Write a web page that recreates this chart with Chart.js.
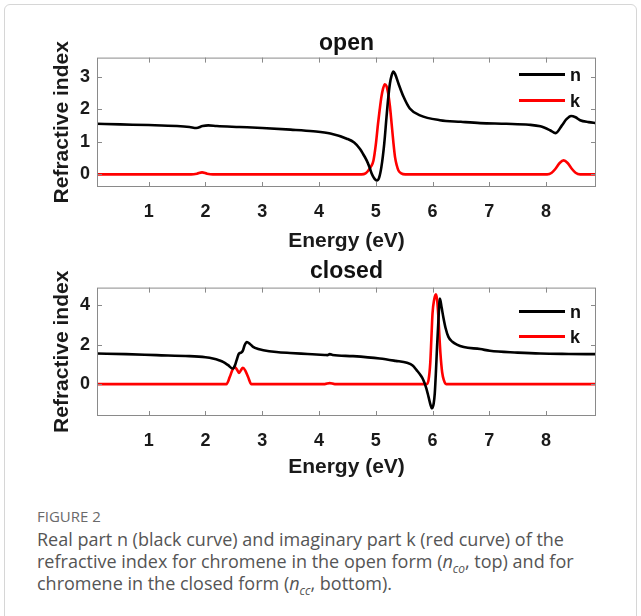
<!DOCTYPE html>
<html>
<head>
<meta charset="utf-8">
<script src="https://cdn.jsdelivr.net/npm/chart.js@4.4.1/dist/chart.umd.min.js"></script>
<style>
  body { margin: 0; background: #fff; width: 641px; height: 616px; overflow: hidden; position: relative; }
  #frame { position: absolute; left: 4px; top: 4px; width: 631px; height: 660px; border: 1px solid #d6d6d6; border-radius: 6px; }
  canvas { position: absolute; left: 0; }
  #c1 { top: 0; }
  #c2 { top: 230px; }
  #fig { position: absolute; left: 37px; top: 506px; font-family: "Open Sans", sans-serif; font-size: 15px; color: #6a6a6a; line-height: 20px; }
  #cap { position: absolute; left: 37px; top: 528px; width: 600px; white-space: nowrap; font-family: "Open Sans", sans-serif; font-size: 18px; color: #555; line-height: 22px; }
  #cap sub { font-size: 12px; font-style: italic; line-height: 0; }
</style>
</head>
<body>
<div id="frame"></div>
<canvas id="c1" width="641" height="257"></canvas>
<canvas id="c2" width="641" height="256"></canvas>
<div id="fig">FIGURE 2</div>
<div id="cap">Real part n (black curve) and imaginary part k (red curve) of the<br>refractive index for chromene in the open form (<i>n</i><sub>co</sub>, top) and for<br>chromene in the closed form (<i>n</i><sub>cc</sub>, bottom).</div>

<script>
// energy axis ticks
const xTicks = [1, 2, 3, 4, 5, 6, 7, 8];

// open form
const openNx = [0.09, 0.5, 1.0, 1.5, 1.72, 1.84, 1.95, 2.05, 2.2, 2.6, 3.0, 3.5, 3.9, 4.2, 4.49, 4.62, 4.72, 4.78, 4.84, 4.89, 4.93, 4.98, 5.02, 5.06, 5.10, 5.15, 5.19, 5.22, 5.25, 5.28, 5.31, 5.34, 5.40, 5.49, 5.60, 5.78, 6.13, 6.5, 6.84, 7.3, 7.7, 7.9, 8.07, 8.17, 8.28, 8.36, 8.44, 8.52, 8.60, 8.75, 8.88];
const openNy = [1.56, 1.54, 1.52, 1.49, 1.46, 1.43, 1.49, 1.51, 1.49, 1.46, 1.43, 1.38, 1.33, 1.26, 1.10, 0.98, 0.79, 0.62, 0.43, 0.22, 0.02, -0.14, -0.19, -0.10, 0.23, 0.95, 1.77, 2.35, 2.80, 3.05, 3.17, 3.10, 2.80, 2.39, 2.03, 1.82, 1.67, 1.62, 1.58, 1.56, 1.53, 1.48, 1.36, 1.27, 1.51, 1.70, 1.80, 1.76, 1.67, 1.61, 1.58];
const openKx = [0.09, 1.75, 1.85, 1.94, 2.03, 2.13, 4.75, 4.82, 4.87, 4.92, 4.96, 5.00, 5.04, 5.07, 5.10, 5.13, 5.16, 5.19, 5.22, 5.25, 5.28, 5.31, 5.34, 5.37, 5.40, 5.45, 5.52, 8.02, 8.10, 8.17, 8.24, 8.31, 8.38, 8.45, 8.52, 8.60, 8.88];
const openKy = [0, 0, 0.02, 0.06, 0.02, 0, 0, 0.03, 0.12, 0.25, 0.43, 0.90, 1.56, 2.00, 2.39, 2.65, 2.78, 2.72, 2.49, 2.10, 1.56, 1.00, 0.53, 0.28, 0.12, 0.03, 0, 0, 0.05, 0.18, 0.35, 0.43, 0.35, 0.18, 0.05, 0, 0];
const openYTicks = [0, 1, 2, 3];

// closed form
const closedNx = [0.09, 0.6, 1.14, 1.72, 2.0, 2.13, 2.25, 2.31, 2.40, 2.48, 2.52, 2.55, 2.59, 2.63, 2.66, 2.69, 2.73, 2.78, 2.84, 2.93, 3.02, 3.25, 3.49, 3.8, 4.10, 4.15, 4.19, 4.24, 4.6, 5.07, 5.35, 5.55, 5.65, 5.72, 5.79, 5.84, 5.89, 5.93, 5.96, 5.99, 6.02, 6.04, 6.06, 6.08, 6.10, 6.13, 6.16, 6.19, 6.23, 6.28, 6.35, 6.43, 6.55, 6.84, 7.01, 7.5, 7.90, 8.4, 8.88];
const closedNy = [1.55, 1.52, 1.47, 1.42, 1.36, 1.30, 1.20, 1.13, 0.96, 0.79, 0.95, 1.22, 1.55, 1.60, 1.70, 1.97, 2.14, 2.05, 1.89, 1.78, 1.72, 1.63, 1.58, 1.53, 1.48, 1.47, 1.52, 1.48, 1.42, 1.30, 1.18, 1.08, 0.95, 0.71, 0.45, 0.20, -0.20, -0.65, -1.00, -1.23, -1.00, -0.47, 0.60, 1.89, 3.00, 4.34, 3.90, 3.41, 2.85, 2.40, 2.15, 2.00, 1.88, 1.78, 1.69, 1.60, 1.55, 1.53, 1.52];
const closedKx = [0.09, 2.37, 2.43, 2.48, 2.52, 2.56, 2.59, 2.62, 2.66, 2.70, 2.75, 2.81, 4.10, 4.19, 4.28, 5.90, 5.93, 5.96, 5.98, 6.00, 6.03, 6.06, 6.08, 6.10, 6.12, 6.14, 6.17, 6.20, 6.24, 8.88];
const closedKy = [0, 0, 0.37, 0.75, 0.85, 0.72, 0.57, 0.68, 0.83, 0.70, 0.37, 0, 0, 0.05, 0, 0, 0.20, 1.05, 2.30, 3.58, 4.30, 4.56, 4.30, 3.58, 2.50, 1.55, 0.60, 0.20, 0, 0];
const closedYTicks = [0, 2, 4];

const FONT = '"Liberation Sans", Arial, sans-serif';
Chart.defaults.font.family = FONT;
Chart.defaults.color = '#1a1a1a';

// MATLAB style box with inward ticks on all four sides
const matBox = {
  id: 'matBox',
  afterDraw(chart) {
    const { ctx, chartArea: a, scales: { x, y } } = chart;
    ctx.save();
    ctx.strokeStyle = '#8a8a8a';
    ctx.lineWidth = 1;
    ctx.strokeRect(a.left + 0.5, a.top + 0.5, a.width - 1, a.height - 1);
    ctx.beginPath();
    x.ticks.forEach(t => {
      const px = Math.round(x.getPixelForValue(t.value)) + 0.5;
      ctx.moveTo(px, a.bottom); ctx.lineTo(px, a.bottom - 5);
      ctx.moveTo(px, a.top); ctx.lineTo(px, a.top + 5);
    });
    y.ticks.forEach(t => {
      const py = Math.round(y.getPixelForValue(t.value)) + 0.5;
      ctx.moveTo(a.left, py); ctx.lineTo(a.left + 5, py);
      ctx.moveTo(a.right, py); ctx.lineTo(a.right - 5, py);
    });
    ctx.stroke();
    ctx.restore();
  }
};

// legend drawn inside the axes, top right, no box
const insideLegend = {
  id: 'insideLegend',
  afterDraw(chart, args, opts) {
    const { ctx, chartArea: a } = chart;
    ctx.save();
    chart.data.datasets.forEach((ds, i) => {
      const yy = a.top + opts.rows[i];
      ctx.strokeStyle = ds.borderColor;
      ctx.lineWidth = 3;
      ctx.beginPath();
      ctx.moveTo(a.right - 77, yy);
      ctx.lineTo(a.right - 31, yy);
      ctx.stroke();
      ctx.fillStyle = '#111';
      ctx.font = 'bold 18px ' + FONT;
      ctx.textBaseline = 'middle';
      ctx.fillText(ds.label, a.right - 26, yy + 1);
    });
    ctx.restore();
  }
};

function pts(xs, ys) {
  return xs.map((x, i) => ({ x: x, y: ys[i] }));
}

function makeChart(id, title, nx, ny, kx, ky, yMin, yMax, yTicks, titlePad, xTitlePad, legendRows) {
  return new Chart(document.getElementById(id), {
    type: 'line',
    data: {
      datasets: [
        { label: 'n', data: pts(nx, ny), borderColor: '#000', borderWidth: 2.6, pointRadius: 0, cubicInterpolationMode: 'monotone' },
        { label: 'k', data: pts(kx, ky), borderColor: '#f00', borderWidth: 2.6, pointRadius: 0, cubicInterpolationMode: 'monotone' }
      ]
    },
    options: {
      responsive: false,
      animation: false,
      layout: { padding: { left: 0, right: 45, top: 0, bottom: 0 } },
      plugins: {
        legend: { display: false },
        tooltip: { enabled: false },
        title: { display: true, fullSize: false, text: title, color: '#111', font: { size: 23, weight: 'bold' }, padding: titlePad },
        insideLegend: { rows: legendRows }
      },
      scales: {
        x: {
          type: 'linear', min: 0.09, max: 8.88,
          afterBuildTicks: s => { s.ticks = xTicks.map(v => ({ value: v })); },
          afterFit: s => { s.height = 70; },
          grid: { display: false, drawTicks: false }, border: { display: false },
          ticks: { padding: 14, font: { size: 18, weight: 'bold' } },
          title: { display: true, text: 'Energy (eV)', font: { size: 21, weight: 'bold' }, padding: xTitlePad }
        },
        y: {
          type: 'linear', min: yMin, max: yMax,
          afterBuildTicks: s => { s.ticks = yTicks.map(v => ({ value: v })); },
          afterFit: s => { s.width = 97; },
          grid: { display: false, drawTicks: false }, border: { display: false },
          ticks: { padding: 7, font: { size: 18, weight: 'bold' } },
          title: { display: true, text: 'Refractive index', font: { size: 21, weight: 'bold' }, padding: { top: 50, bottom: 0 } }
        }
      }
    },
    plugins: [matBox, insideLegend]
  });
}

makeChart('c1', 'open', openNx, openNy, openKx, openKy, -0.39, 3.6, openYTicks,
  { top: 30, bottom: 0 }, { top: 0, bottom: 3 }, [17, 43]);
makeChart('c2', 'closed', closedNx, closedNy, closedKx, closedKy, -1.62, 4.9, closedYTicks,
  { top: 28, bottom: 2 }, { top: 0, bottom: 6 }, [24, 49]);
</script>
</body>
</html>
